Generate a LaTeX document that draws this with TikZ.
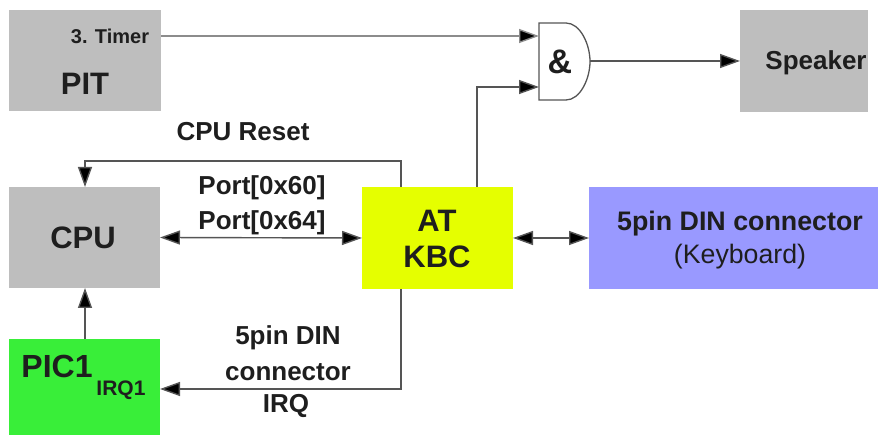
\documentclass[tikz,border=0pt]{standalone}
\usepackage{fontspec}
\setmainfont{Liberation Sans}
\usetikzlibrary{arrows.meta}
\definecolor{boxgray}{RGB}{190,190,190}
\definecolor{kbcyellow}{RGB}{229,255,0}
\definecolor{dinblue}{RGB}{153,153,255}
\definecolor{picgreen}{RGB}{57,238,57}
\definecolor{linegray}{RGB}{85,85,85}
\definecolor{timergray}{RGB}{140,140,140}
\definecolor{ink}{RGB}{30,30,30}
\tikzset{
  block/.style={draw=none,inner sep=0,outer sep=0,anchor=north west},
  tip/.tip={Triangle[length=20pt,width=14pt,fill=black]},
  conn/.style={draw=linegray,line width=1.4pt,-{tip}},
  both/.style={draw=linegray,line width=1.4pt,{tip}-{tip}},
  lbl/.style={font=\bfseries\fontsize{26}{28}\selectfont,text=ink,inner sep=0},
  big/.style={font=\bfseries\fontsize{31}{34}\selectfont,text=ink,inner sep=0},
}
\begin{document}
\begin{tikzpicture}[x=1pt,y=-1pt]
\useasboundingbox (0,0) rectangle (878,435);
\node[block,fill=boxgray,minimum width=152pt,minimum height=101pt] (pit) at (9,10) {};
\node[block,fill=boxgray,minimum width=128pt,minimum height=102pt] (spk) at (740,10) {};
\node[block,fill=boxgray,minimum width=151pt,minimum height=101pt] (cpu) at (9,187) {};
\node[block,fill=kbcyellow,minimum width=151pt,minimum height=102pt] (kbc) at (362,187) {};
\node[block,fill=dinblue,minimum width=289pt,minimum height=102pt] (din) at (589,187) {};
\node[block,fill=picgreen,minimum width=151pt,minimum height=96pt] (pic) at (9,339) {};
\draw[line width=1.3pt,draw=linegray,fill=white] (539,23) -- (566,23)
  .. controls (580,23) and (590,44) .. (590,61.5)
  .. controls (590,79) and (580,100) .. (566,100) -- (539,100) -- cycle;
\coordinate (gin1) at (539,36);
\coordinate (gin2) at (539,87);
\coordinate (gout) at (590,61);
\node[big,font=\bfseries\fontsize{34}{36}\selectfont] (and) at (560,62) {\&};
\node[lbl,font=\bfseries\fontsize{20}{22}\selectfont] (timer) at (110,36) {3. Timer};
\node[big] (pitl) at (85,84) {PIT};
\node[lbl] (spkl) at (816,63) {Speaker};
\node[big] (cpul) at (83,238) {CPU};
\node[big] (kbl1) at (437,221) {AT};
\node[big] (kbl2) at (437,257) {KBC};
\node[lbl,font=\bfseries\fontsize{26.8}{28}\selectfont] (d1) at (740,224) {5pin DIN connector};
\node[font=\fontsize{26.7}{28}\selectfont,text=ink,inner sep=0] (d2) at (740,257) {(Keyboard)};
\node[big,font=\bfseries\fontsize{32}{34}\selectfont] (p1) at (57,366) {PIC1};
\node[lbl,font=\bfseries\fontsize{21}{23}\selectfont] (irq1) at (121,390) {IRQ1};
\node[lbl] (rst) at (243,132) {CPU Reset};
\node[lbl] (p60) at (262,188) {Port[0x60]};
\node[lbl] (p64) at (262,223) {Port[0x64]};
\node[lbl] (l1) at (288,338) {5pin DIN};
\node[lbl] (l2) at (288,372) {connector};
\node[lbl] (l3) at (286,406) {IRQ};
\draw[conn,draw=timergray] (pit.north east |- gin1) -- (gin1);
\draw[conn] (kbc.north -| 477,0) -- (477,87) -- (gin2);
\draw[conn] (gout) -- (spk.west |- gout);
\draw[conn] (kbc.north -| 401,0) -- (401,161) -- (85,161) -- (cpu.north -| 85,0);
\draw[both] (cpu.east) -- (kbc.west);
\draw[both] (kbc.east) -- (din.west);
\draw[conn] (pic.north -| 85,0) -- (cpu.south -| 85,0);
\draw[conn] (kbc.south -| 401,0) -- (401,389) -- (pic.east |- 0,389);
\end{tikzpicture}
\end{document}
